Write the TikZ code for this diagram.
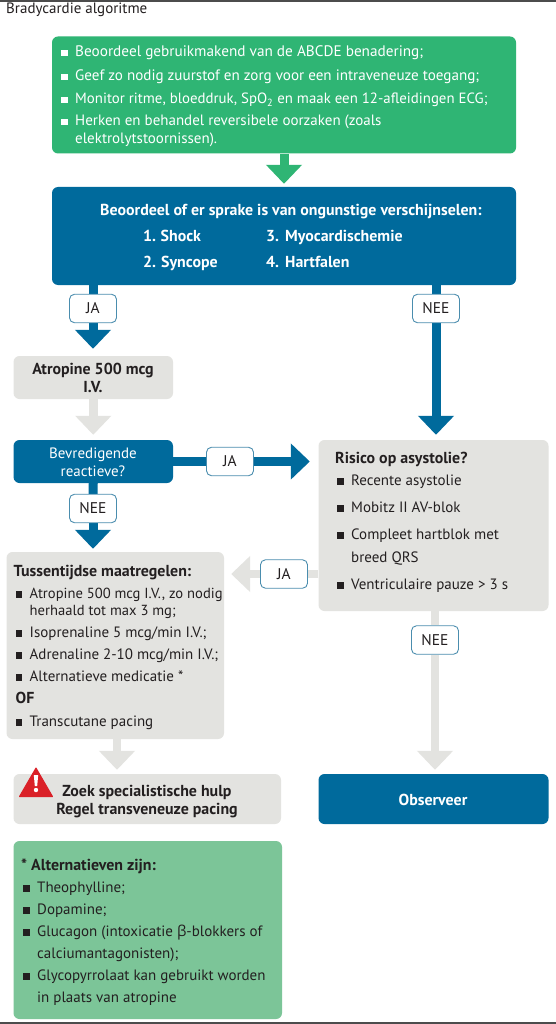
\documentclass[tikz,border=0pt]{standalone}
\usepackage{fontspec}
\setmainfont{PT Sans}
\newfontfamily\greekf{Open Sans}
\usetikzlibrary{arrows.meta,fit,backgrounds}
\definecolor{cgreen}{HTML}{2FB574}
\definecolor{cblue}{HTML}{006A9C}
\definecolor{cgray}{HTML}{E3E3E0}
\definecolor{clight}{HTML}{7CC598}
\definecolor{cink}{HTML}{231F20}
\definecolor{cedge}{HTML}{4A8DAE}
\definecolor{cred}{HTML}{DA2128}
\newcommand{\fsz}{\fontsize{15}{18}\selectfont}
\newcommand{\fsb}{\fontsize{15.9}{18}\selectfont\bfseries}
\tikzset{
  x=1pt,y=-1pt,
  panel/.style={rectangle,rounded corners=6pt,inner sep=0pt,draw=none},
  tag/.style={rectangle,rounded corners=5pt,draw=cedge,line width=0.9pt,fill=white,minimum width=47pt,minimum height=28.5pt,inner sep=0pt,text=cink,font=\fontsize{15.5}{18}\selectfont},
  line/.style={anchor=base west,inner sep=0pt,text=cink,font=\fsz},
  wline/.style={line,text=white},
  bline/.style={line,font=\fsb},
  wbline/.style={bline,text=white},
  cline/.style={line,anchor=base},
  cbline/.style={cline,font=\fsb},
  blueline/.style={draw=cblue,line width=9pt},
  grayline/.style={draw=cgray,line width=8.5pt},
  greenline/.style={draw=cgreen,line width=9pt},
  tipped/.style={-{Triangle[width=35pt,length=19pt]}},
}
\newcommand{\blt}{\makebox[14pt][l]{\raisebox{0.5pt}{\rule{6.5pt}{6.5pt}}}}
\begin{document}
\begin{tikzpicture}
\useasboundingbox (0,0) rectangle (556,1024);
\begin{scope}[on background layer]
  \fill[white] (0,0) rectangle (556,1024);
  \fill[black!70] (0,0) rectangle (556,2);
  \fill[black!70] (0,1022) rectangle (556,1024);
\end{scope}

% title
\node[line] (title) at (6,14) {Bradycardie algoritme};

% panels
\node[panel,fill=cgreen,fit={(52,36.5)(516,153.5)}] (start) {};
\node[panel,fill=cblue,fit={(52,187)(516,285)}] (assess) {};
\node[panel,fill=cgray,fit={(13.5,356)(173,399)}] (atropine) {};
\node[panel,fill=cblue,fit={(13.5,440)(173,483)}] (response) {};
\node[panel,fill=cgray,fit={(318.5,440)(548.5,611)}] (risk) {};
\node[panel,fill=cgray,fit={(6.5,552)(224,739)}] (interim) {};
\node[panel,fill=cgray,fit={(13.5,774)(281,824)}] (expert) {};
\node[panel,fill=cblue,fit={(318.5,774)(548.5,824)}] (observe) {};
\node[panel,fill=clight,fit={(13.5,841)(282,1019)}] (alts) {};

% yes / no tags
\node[tag] (jaA) at (93,308.5) {JA};
\node[tag] (neeA) at (436,308.5) {NEE};
\node[tag] (jaB) at (230,461.5) {JA};
\node[tag] (neeB) at (93,508.5) {NEE};
\node[tag] (jaC) at (284,574) {JA};
\node[tag] (neeC) at (435,640) {NEE};
\coordinate (outI) at (117,739);

% connectors
\begin{scope}[on background layer]
  \draw[greenline,tipped,shorten >=3pt] (start.south) -- (assess.north);
  \draw[blueline] (assess.south -| jaA) -- (jaA);
  \draw[blueline,tipped,shorten >=7pt] (jaA) -- (jaA |- atropine.north);
  \draw[blueline] (assess.south -| neeA) -- (neeA);
  \draw[blueline,tipped,shorten >=5pt] (neeA) -- (neeA |- risk.north);
  \draw[grayline,tipped,shorten >=5pt] (atropine.south) -- (response.north);
  \draw[blueline] (response.east) -- (jaB);
  \draw[blueline,tipped,shorten >=8.5pt] (jaB) -- (jaB -| risk.west);
  \draw[blueline] (response.south) -- (neeB);
  \draw[blueline,tipped,shorten >=3pt] (neeB) -- (neeB |- interim.north);
  \draw[grayline] (risk.west |- jaC) -- (jaC);
  \draw[grayline,tipped,shorten >=7pt] (jaC) -- (jaC -| interim.east);
  \draw[grayline] (neeC |- risk.south) -- (neeC);
  \draw[grayline,tipped,shorten >=4pt] (neeC) -- (neeC |- observe.north);
  \draw[grayline,tipped,shorten >=4pt] (outI) -- (outI |- expert.north);
\end{scope}

% start panel text
\begin{scope}[every node/.style={wline}]
  \node[font=\fontsize{15.25}{18}\selectfont] (s1) at (61,57) {\blt Beoordeel gebruikmakend van de ABCDE benadering;};
  \node[font=\fontsize{15.1}{18}\selectfont] (s2) at (61,81) {\blt Geef zo nodig zuurstof en zorg voor een intraveneuze toegang;};
  \node[font=\fontsize{14.85}{18}\selectfont] (s3) at (61,104) {\blt Monitor ritme, bloeddruk, SpO\textsubscript{2} en maak een 12-afleidingen ECG;};
  \node (s4) at (61,126) {\blt Herken en behandel reversibele oorzaken (zoals};
  \node (s5) at (75,144) {elektrolytstoornissen).};
\end{scope}

% assessment panel text
\begin{scope}[every node/.style={wbline}]
  \node (a0) at (100,215) {Beoordeel of er sprake is van ongunstige verschijnselen:};
  \node (a1) at (143,241) {\makebox[17.5pt][l]{1.}Shock};
  \node (a2) at (143,267) {\makebox[18pt][l]{2.}Syncope};
  \node (a3) at (266,241) {\makebox[19pt][l]{3.}Myocardischemie};
  \node (a4) at (266,267) {\makebox[19pt][l]{4.}Hartfalen};
\end{scope}

% atropine, response
\node[cbline] (b1) at (93,374) {Atropine 500 mcg};
\node[cbline] (b2) at (93,392) {I.V.};
\node[cline,text=white] (r1) at (93,458) {Bevredigende};
\node[cline,text=white] (r2) at (93,476) {reactieve?};

% risk text
\node[bline] (k0) at (335,463) {Risico op asystolie?};
\node[line] (k1) at (337,485) {\blt Recente asystolie};
\node[line] (k2) at (337,512) {\blt Mobitz II AV-blok};
\node[line] (k3) at (337,539) {\blt Compleet hartblok met};
\node[line] (k4) at (351,562) {breed QRS};
\node[line] (k5) at (337,589) {\blt Ventriculaire pauze > 3 s};

% interim text
\node[bline] (m0) at (13.5,576) {Tussentijdse maatregelen:};
\begin{scope}[every node/.append style={font=\fontsize{14.7}{18}\selectfont}]
\node[line,font=\fontsize{14.6}{18}\selectfont] (m1) at (15.5,598) {\blt Atropine 500 mcg I.V., zo nodig};
\node[line,font=\fontsize{14.6}{18}\selectfont] (m2) at (29.5,615) {herhaald tot max 3 mg;};
\end{scope}
\node[line] (m3) at (15.5,637) {\blt Isoprenaline 5 mcg/min I.V.;};
\node[line] (m4) at (15.5,659) {\blt Adrenaline 2-10 mcg/min I.V.;};
\node[line] (m5) at (15.5,681) {\blt Alternatieve medicatie *};
\node[bline] (m6) at (15.5,703) {OF};
\node[line] (m7) at (15.5,726) {\blt Transcutane pacing};

% expert panel
\fill[cred,draw=cred,line width=1pt,line join=round] (36,768) -- (52.5,796.5) -- (19.5,796.5) -- cycle;
\fill[white] (33.8,775) -- (38.2,775) -- (37.2,786) -- (34.8,786) -- cycle;
\fill[white] (36,790) circle (2.2pt);
\node[cbline] (e1) at (147,796) {Zoek specialistische hulp};
\node[cbline] (e2) at (147,814) {Regel transveneuze pacing};

% observe
\node[cbline,text=white] (o1) at (433,805) {Observeer};

% alternatives
\node[bline] (l0) at (21,870) {* Alternatieven zijn:};
\node[line] (l1) at (23,892) {\blt Theophylline;};
\node[line] (l2) at (23,914) {\blt Dopamine;};
\node[line] (l3) at (23,936) {\blt Glucagon (intoxicatie {\greekf β}-blokkers of};
\node[line] (l4) at (37,958) {calciumantagonisten);};
\node[line] (l5) at (23,980) {\blt Glycopyrrolaat kan gebruikt worden};
\node[line] (l6) at (37,1002) {in plaats van atropine};
\end{tikzpicture}
\end{document}
